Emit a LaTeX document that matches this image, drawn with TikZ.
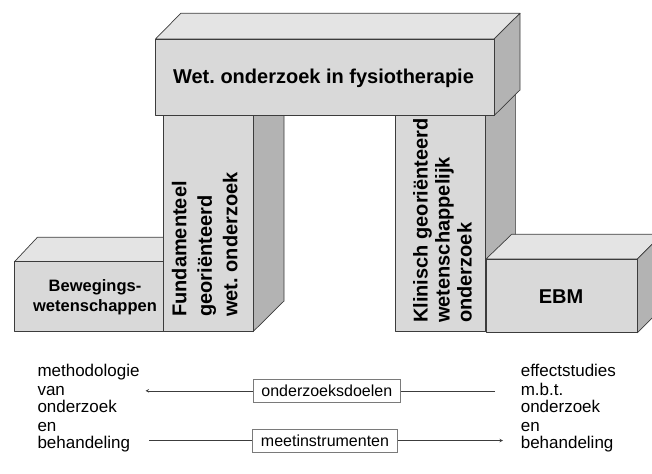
\documentclass[tikz,border=0pt]{standalone}
\usepackage{fontspec}
\setmainfont{Liberation Sans}
\usetikzlibrary{positioning}
\definecolor{frontgray}{HTML}{D9D9D9}
\definecolor{topgray}{HTML}{E4E4E4}
\definecolor{sidegray}{HTML}{B3B3B3}
\definecolor{edgegray}{HTML}{3C3C3C}
\definecolor{tagedge}{HTML}{7A7A7A}
\frenchspacing

\begin{document}
\begin{tikzpicture}[x=1pt, y=-1pt, >=stealth,
	face/.style={draw=edgegray, line width=0.7pt, line join=round},
	frontface/.style={face, fill=frontgray},
	topface/.style={face, fill=topgray},
	sideface/.style={face, fill=sidegray},
	bigtext/.style={font=\bfseries\fontsize{20}{25.5}\selectfont, inner sep=0pt},
	listtext/.style={font=\fontsize{17}{16.5}\selectfont, inner sep=0pt, align=left, anchor=north west},
	tagbox/.style={draw=tagedge, line width=0.6pt, font=\fontsize{16}{18}\selectfont, inner xsep=8.3pt, inner ysep=0pt, minimum height=23pt},
	link/.style={draw=edgegray, line width=0.6pt}]
	\clip (0,0) rectangle (652,473);
	
	% Linker pijler
	\draw[sideface] (253,331.7) -- (284,301) -- (284,115) -- (253,115) -- cycle;
	\draw[frontface] (163.4,115.7) rectangle (253,331.7);
	
	% Rechter pijler
	\draw[sideface] (485,331.7) -- (515.6,301) -- (515.6,94) -- (485,115.7) -- cycle;
	\draw[frontface] (395,115.7) rectangle (485,331.7);
	
	% Bovenste balk
	\draw[topface] (155.5,39) -- (180.8,13.3) -- (520,13.3) -- (494,39) -- cycle;
	\draw[sideface] (494,39) -- (520,13.3) -- (520,90) -- (494,115.7) -- cycle;
	\draw[frontface] (155.5,39) rectangle (494,115.7);
	
	% Linker blok
	\draw[topface] (14.5,261.7) -- (37.4,237.3) -- (163.4,237.3) -- (163.4,261.7) -- cycle;
	\draw[frontface] (14.5,261.7) rectangle (163.4,331.7);
	
	% Rechter blok
	\draw[topface] (486,259) -- (511.7,234.3) -- (662,234.3) -- (637.3,259) -- cycle;
	\draw[sideface] (637.3,259) -- (662,234.3) -- (662,308) -- (637.3,332.7) -- cycle;
	\draw[frontface] (486,259) rectangle (637.3,332.7);
	
	% Teksten in de blokken
	\node[bigtext, anchor=base] (beamtext) at (323.5,84) {Wet. onderzoek in fysiotherapie};
	\node[bigtext, rotate=90, anchor=north west, align=left] (fundtext) at (171.8,317) {Fundamenteel\\georiënteerd\\wet. onderzoek};
	\node[bigtext, font=\bfseries\fontsize{20}{22}\selectfont, rotate=90, anchor=north west, align=left] (klintext) at (413,323) {Klinisch georiënteerd\\wetenschappelijk\\onderzoek};
	\node[bigtext, font=\bfseries\fontsize{16.5}{20.5}\selectfont, align=center] (bewtext) at (95,297) {Bewegings-\\wetenschappen};
	\node[bigtext, anchor=base] (ebmtext) at (561,303.3) {EBM};
	
	% Onderste teksten
	\node[listtext] (leftlist) at (37.3,363.5) {methodologie\\[3pt]van\\onderzoek\\[3pt]en\\behandeling};
	\node[listtext] (rightlist) at (520.6,363.5) {effectstudies\\[3pt]m.b.t.\\onderzoek\\[3pt]en\\behandeling};
	
	% Doelen en instrumenten
	\node[tagbox] (doelen) at (326.8,390.8) {onderzoeksdoelen};
	\node[tagbox] (meet) at (325,440.5) {meetinstrumenten};
	\coordinate (doelenR) at (495,390.8);
	\coordinate (doelenL) at (145.5,390.8);
	\coordinate (meetL) at (149,440.5);
	\coordinate (meetR) at (503,440.5);
	\draw[link] (doelenR) -- (doelen);
	\draw[link, ->] (doelen) -- (doelenL);
	\draw[link] (meetL) -- (meet);
	\draw[link, ->] (meet) -- (meetR);
\end{tikzpicture}
\end{document}
